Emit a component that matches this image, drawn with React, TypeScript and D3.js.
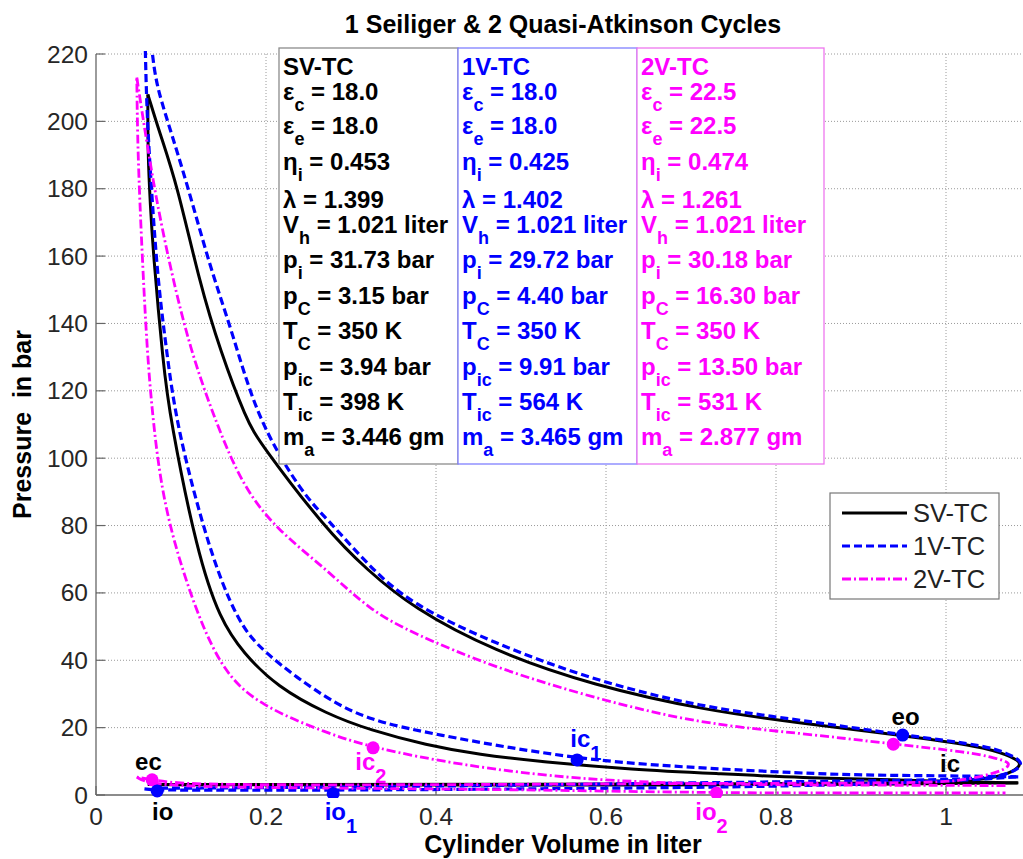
import React from "react";
import * as d3 from "d3";

type Pt = [number, number];

// ---------------- DATA ----------------
const SERIES = ["SV-TC", "1V-TC", "2V-TC"];
const COLORS = ["#000000", "#0000ff", "#ff00ff"];

const X_TICKS = [0, 0.2, 0.4, 0.6, 0.8, 1];
const X_TICK_LABELS = ["0", "0.2", "0.4", "0.6", "0.8", "1"];
const Y_TICKS = [0, 20, 40, 60, 80, 100, 120, 140, 160, 180, 200, 220];

// SV-TC (Seiliger) — black
const svCompression: Pt[] = [
  [1.085, 3.6], [1.0, 4.0], [0.946, 4.5], [0.828, 5.1], [0.734, 6.3], [0.63, 7.6],
  [0.526, 9.8], [0.45, 12.0], [0.389, 14.8], [0.322, 19.3], [0.272, 24.0], [0.213, 32.1],
  [0.173, 42.2], [0.146, 52.0], [0.119, 71.8], [0.087, 112.0], [0.079, 128.0],
  [0.067, 161.8], [0.064, 175.0], [0.061, 190.0], [0.061, 208.0],
];
const svExpansion: Pt[] = [
  [0.061, 208.0], [0.075, 196.5], [0.095, 181.6], [0.122, 152.0], [0.146, 132.0],
  [0.177, 111.3], [0.193, 104.5], [0.27, 79.0], [0.319, 66.8], [0.373, 55.5],
  [0.467, 42.8], [0.585, 32.5], [0.72, 25.0], [0.828, 21.4], [0.946, 17.8],
  [1.044, 14.3], [1.071, 12.0], [1.09, 9.8], [1.083, 7.4], [1.063, 5.4], [1.03, 4.3],
  [0.95, 3.6], [0.8, 3.3], [0.5, 3.2], [0.2, 3.1], [0.061, 3.1],
];
const svIntake: Pt[] = [
  [0.061, 3.1], [0.3, 2.9], [0.6, 2.9], [0.95, 3.2], [1.085, 3.6],
];

// 1V-TC (quasi-Atkinson) — blue
const v1Compression: Pt[] = [
  [1.085, 5.4], [1.0, 5.7], [0.9, 5.9], [0.828, 6.5], [0.711, 8.0], [0.566, 10.4],
  [0.389, 18.4], [0.322, 22.3], [0.272, 28.2], [0.193, 43.0], [0.166, 52.0],
  [0.134, 71.8], [0.095, 109.0], [0.083, 132.0], [0.073, 152.0], [0.066, 176.7],
  [0.06, 201.0], [0.058, 221.0], [0.057, 234.0],
];
const v1Expansion: Pt[] = [
  [0.057, 234.0], [0.06, 238.0], [0.0655, 221.0], [0.071, 211.0], [0.083, 201.0],
  [0.107, 181.7], [0.134, 156.8], [0.161, 137.0], [0.19, 111.3], [0.244, 89.0],
  [0.272, 82.0], [0.322, 67.7], [0.369, 57.0], [0.467, 45.1],
  [0.585, 34.1], [0.711, 26.1], [0.828, 22.3], [0.949, 17.8], [1.044, 14.8],
  [1.071, 12.5], [1.092, 9.8], [1.083, 7.2], [1.06, 5.4], [1.02, 4.6], [0.9, 4.2],
  [0.7, 3.6], [0.4, 2.6], [0.15, 2.1], [0.066, 2.0],
];
const v1Intake: Pt[] = [
  [0.057, 1.8], [0.072, 1.4], [0.279, 1.4], [0.5, 1.8], [0.8, 2.4], [1.0, 4.0], [1.085, 5.4],
];

// 2V-TC (quasi-Atkinson) — magenta
const v2Compression: Pt[] = [
  [1.07, 2.8], [0.95, 2.9], [0.734, 3.0], [0.566, 4.5], [0.428, 8.9], [0.326, 14.0],
  [0.272, 18.3], [0.193, 26.5], [0.146, 37.1], [0.107, 61.8], [0.079, 86.7],
  [0.067, 111.0], [0.06, 132.0], [0.054, 161.8], [0.049, 191.5], [0.048, 213.0],
];
const v2Expansion: Pt[] = [
  [0.048, 213.0], [0.067, 181.7], [0.087, 156.8], [0.111, 132.0], [0.142, 110.0],
  [0.173, 91.5], [0.213, 78.7], [0.272, 66.8], [0.322, 54.9], [0.373, 48.0],
  [0.467, 38.0], [0.585, 28.8], [0.711, 21.1], [0.828, 18.4], [0.938, 15.1],
  [1.025, 12.8], [1.058, 11.0], [1.078, 9.5], [1.068, 7.4], [1.052, 6.2],
  [1.024, 4.5], [0.985, 3.5], [0.72, 3.5], [0.4, 3.0], [0.15, 3.0], [0.09, 3.6],
  [0.066, 4.5], [0.048, 5.3],
];
const v2Intake: Pt[] = [
  [0.048, 5.3], [0.058, 3.8], [0.1, 2.4], [0.3, 2.0], [0.5, 1.6], [0.73, 0.6],
  [0.9, 0.6], [1.07, 0.6],
];

// Valve-event markers: [V, p, series index]
const MARKERS: [number, number, number][] = [
  [0.949, 17.8, 1], [0.938, 15.1, 2], [0.566, 10.4, 1], [0.326, 14.0, 2],
  [0.066, 4.5, 2], [0.072, 1.2, 1], [0.279, 0.4, 1], [0.73, 0.6, 2],
];

// Point labels: [text, subscript, colour series index, V, p]
const POINT_LABELS: [string, string, number, number, number][] = [
  ["eo", "", 0, 0.936, 20.8],
  ["ic", "", 0, 0.993, 6.8],
  ["ec", "", 0, 0.046, 7.4],
  ["io", "", 0, 0.066, -7.4],
  ["io", "1", 1, 0.269, -7.4],
  ["ic", "1", 1, 0.558, 14.3],
  ["ic", "2", 2, 0.305, 7.4],
  ["io", "2", 2, 0.705, -7.4],
];

// Parameter table
const PARAM_SYMBOLS: [string, string][] = [
  ["ε", "c"], ["ε", "e"], ["η", "i"], ["λ", ""], ["V", "h"], ["p", "i"],
  ["p", "C"], ["T", "C"], ["p", "ic"], ["T", "ic"], ["m", "a"],
];
const SV_VALUES = ["18.0", "18.0", "0.453", "1.399", "1.021 liter", "31.73 bar", "3.15 bar", "350 K", "3.94 bar", "398 K", "3.446 gm"];
const V1_VALUES = ["18.0", "18.0", "0.425", "1.402", "1.021 liter", "29.72 bar", "4.40 bar", "350 K", "9.91 bar", "564 K", "3.465 gm"];
const V2_VALUES = ["22.5", "22.5", "0.474", "1.261", "1.021 liter", "30.18 bar", "16.30 bar", "350 K", "13.50 bar", "531 K", "2.877 gm"];

const TITLE = "1 Seiliger & 2 Quasi-Atkinson Cycles";
const X_LABEL = "Cylinder Volume in liter";
const Y_LABEL = "Pressure  in bar";

// ---------------- LAYOUT / STYLE ----------------
const FONT = "Arial, 'Liberation Sans', Helvetica, sans-serif";
const W = 1023;
const H = 859;
const PLOT = { left: 96, right: 1031, top: 54, bottom: 795 };
const STYLES = [
  { width: 3, dash: "none" },
  { width: 3.2, dash: "8 4" },
  { width: 2.8, dash: "9 3 2 3" },
];
const BOX_X = [279, 458, 637, 824];
const BOX_BORDER = ["#8c8c8c", "#8080ff", "#ee77ee"];
const BOX_TOP = 48;
const BOX_BOTTOM = 464;
const ROW_BASE = [75, 100, 134, 170, 208, 233, 268, 304, 339, 375, 410, 445];

function SubText(props: {
  x: number; y: number; main: string; sub: string; rest: string; color: string;
  size: number; subSize: number; dy: number; weight?: string;
}) {
  const { x, y, main, sub, rest, color, size, subSize, dy, weight } = props;
  return (
    <text x={x} y={y} fill={color} fontSize={size} fontWeight={weight || "bold"}
      fontFamily={FONT} style={{ whiteSpace: "pre" }}>
      <tspan>{main}</tspan>
      {sub ? <tspan dy={dy} fontSize={subSize}>{sub}</tspan> : null}
      {rest ? <tspan dy={sub ? -dy : 0}>{rest}</tspan> : null}
    </text>
  );
}

export default function App() {
  const x = d3.scaleLinear().domain([0, 1.1]).range([PLOT.left, PLOT.right]);
  const y = d3.scaleLinear().domain([0, 220]).range([PLOT.bottom, PLOT.top]);
  const line = d3
    .line<Pt>()
    .x((d) => x(d[0]))
    .y((d) => y(d[1]))
    .curve(d3.curveBasis);

  const curves: { data: Pt[]; s: number }[] = [
    { data: svIntake, s: 0 }, { data: svCompression, s: 0 }, { data: svExpansion, s: 0 },
    { data: v1Intake, s: 1 }, { data: v1Compression, s: 1 }, { data: v1Expansion, s: 1 },
    { data: v2Intake, s: 2 }, { data: v2Compression, s: 2 }, { data: v2Expansion, s: 2 },
  ];
  const tables = [SV_VALUES, V1_VALUES, V2_VALUES];

  return (
    <svg width={W} height={H} style={{ position: "absolute", left: 0, top: 0, background: "#fff" }}
      fontFamily={FONT}>
      <defs>
        <clipPath id="plotclip">
          <rect x={PLOT.left} y={PLOT.top - 3} width={PLOT.right - PLOT.left} height={PLOT.bottom - PLOT.top + 6} />
        </clipPath>
      </defs>
      <rect x={0} y={0} width={W} height={H} fill="#fff" />

      {/* grid */}
      {X_TICKS.filter((t) => t > 0).map((t) => (
        <line key={"gx" + t} x1={x(t)} x2={x(t)} y1={PLOT.top} y2={PLOT.bottom}
          stroke="#9a9a9a" strokeWidth={1} strokeDasharray="1 2" />
      ))}
      {Y_TICKS.filter((t) => t > 0).map((t) => (
        <line key={"gy" + t} x1={PLOT.left} x2={PLOT.right} y1={y(t)} y2={y(t)}
          stroke="#9a9a9a" strokeWidth={1} strokeDasharray="1 2" />
      ))}

      {/* axes */}
      <line x1={PLOT.left} x2={PLOT.left} y1={PLOT.top} y2={PLOT.bottom} stroke="#666" strokeWidth={1.3} />
      <line x1={PLOT.left} x2={PLOT.right} y1={PLOT.bottom} y2={PLOT.bottom} stroke="#666" strokeWidth={1.3} />
      {Y_TICKS.map((t) => (
        <g key={"ty" + t}>
          <line x1={PLOT.left} x2={PLOT.left + 9} y1={y(t)} y2={y(t)} stroke="#666" strokeWidth={1.2} />
          <text x={PLOT.left - 8} y={y(t) + 8.5} textAnchor="end" fontSize={24.5} fill="#262626">{t}</text>
        </g>
      ))}
      {X_TICKS.map((t, i) => (
        <g key={"tx" + t}>
          <line x1={x(t)} x2={x(t)} y1={PLOT.bottom} y2={PLOT.bottom - 9} stroke="#666" strokeWidth={1.2} />
          <text x={x(t)} y={825} textAnchor="middle" fontSize={24.5} fill="#262626">{X_TICK_LABELS[i]}</text>
        </g>
      ))}

      {/* curves */}
      <g clipPath="url(#plotclip)">
        {curves.map((c, i) => (
          <path key={"c" + i} d={line(c.data) || ""} fill="none" stroke={COLORS[c.s]}
            strokeWidth={STYLES[c.s].width} strokeDasharray={STYLES[c.s].dash}
            strokeLinejoin="round" />
        ))}
        {MARKERS.map((m, i) => (
          <circle key={"m" + i} cx={x(m[0])} cy={y(m[1])} r={6.5} fill={COLORS[m[2]]} />
        ))}
      </g>

      {/* point labels */}
      {POINT_LABELS.map((l, i) => (
        <SubText key={"pl" + i} x={x(l[3])} y={y(l[4])} main={l[0]} sub={l[1]} rest=""
          color={COLORS[l[2]]} size={24} subSize={20} dy={13} />
      ))}

      {/* parameter tables */}
      {tables.map((vals, k) => (
        <rect key={"tb" + k} x={BOX_X[k]} y={BOX_TOP} width={BOX_X[k + 1] - BOX_X[k]} height={BOX_BOTTOM - BOX_TOP}
          fill="#fff" stroke={BOX_BORDER[k]} strokeWidth={1.3} />
      ))}
      {tables.map((vals, k) => (
        <g key={"tt" + k}>
          <text x={BOX_X[k] + 4} y={ROW_BASE[0]} fill={COLORS[k]} fontSize={24} fontWeight="bold">{SERIES[k]}</text>
          {PARAM_SYMBOLS.map((sym, r) => (
            <SubText key={"r" + r} x={BOX_X[k] + 4} y={ROW_BASE[r + 1]} main={sym[0]} sub={sym[1]}
              rest={" = " + vals[r]} color={COLORS[k]} size={24} subSize={18} dy={11} />
          ))}
        </g>
      ))}

      {/* legend */}
      <rect x={830} y={493} width={169} height={106} fill="#fff" stroke="#777" strokeWidth={1.2} />
      {SERIES.map((s, i) => (
        <g key={"lg" + i}>
          <line x1={842} x2={907} y1={513 + i * 33} y2={513 + i * 33} stroke={COLORS[i]}
            strokeWidth={STYLES[i].width} strokeDasharray={STYLES[i].dash} />
          <text x={913} y={522 + i * 33} fontSize={25.5} fill="#222">{s}</text>
        </g>
      ))}

      {/* titles */}
      <text x={563} y={33} textAnchor="middle" fontSize={25} fontWeight="bold" fill="#000">{TITLE}</text>
      <text x={563} y={853} textAnchor="middle" fontSize={25} fontWeight="bold" fill="#000">{X_LABEL}</text>
      <text transform={`translate(31,${(PLOT.top + PLOT.bottom) / 2}) rotate(-90)`} textAnchor="middle"
        fontSize={25} fontWeight="bold" fill="#000" style={{ whiteSpace: "pre" }}>{Y_LABEL}</text>
    </svg>
  );
}
